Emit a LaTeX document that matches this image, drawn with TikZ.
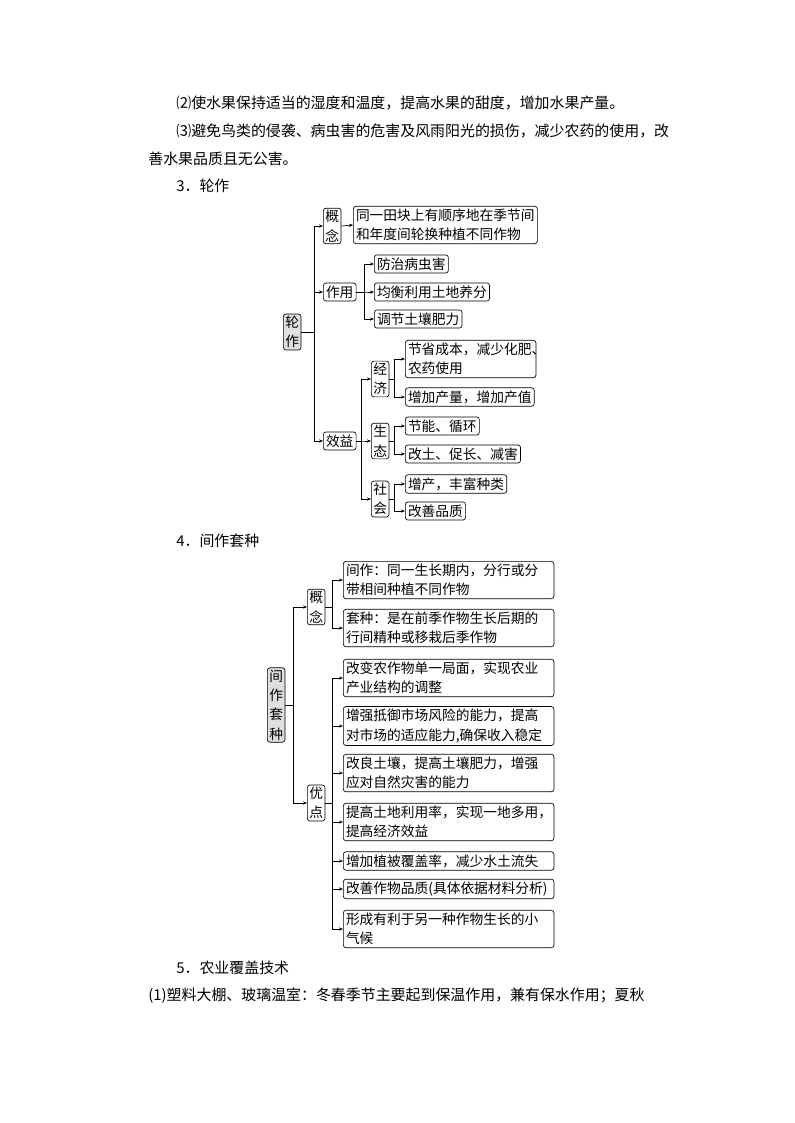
\documentclass[tikz,border=0pt]{standalone}
\usepackage{fontspec}
\setmainfont{Noto Sans CJK SC}
\usetikzlibrary{positioning, calc, arrows.meta}
\tikzset{
  txt/.style={anchor=west, inner sep=0pt, font=\fontsize{11.2}{14}\selectfont},
  box/.style={draw, rounded corners=2pt, anchor=west, inner sep=2pt, align=left, font=\fontsize{10.3}{14.5}\selectfont},
  vbox/.style={box, align=center, inner sep=1.5pt},
  rootbox/.style={vbox, fill=gray!25},
  arr/.style={-{Stealth[length=3pt,width=2.4pt]}},
}
\begin{document}
\begin{tikzpicture}[x=0.75pt, y=-0.75pt, line width=0.5pt]
      \useasboundingbox (0,0) rectangle (794,1123);

      % running text
      \node[txt] (p1) at (176,103) {⑵使水果保持适当的湿度和温度，提高水果的甜度，增加水果产量。};
      \node[txt] (p2) at (176,131) {⑶避免鸟类的侵袭、病虫害的危害及风雨阳光的损伤，减少农药的使用，改};
      \node[txt] (p3) at (148,159) {善水果品质且无公害。};
      \node[txt] (h3) at (176,186) {3．轮作};
      \node[txt] (h4) at (176,541) {4．间作套种};
      \node[txt] (h5) at (176,968) {5．农业覆盖技术};
      \node[txt] (p4) at (148,996) {(1)塑料大棚、玻璃温室：冬春季节主要起到保温作用，兼有保水作用；夏秋};

      % 轮作
      \node[rootbox] (LZ) at (283,332) {轮\\作};
      \node[vbox] (LZgn) at (323,226) {概\\念};
      \node[box, text width=134pt] (LZgnA) at (353,225) {同一田块上有顺序地在季节间\\和年度间轮换种植不同作物};
      \node[box] (LZzy) at (323,292) {作用};
      \node[box] (LZzy1) at (374,264) {防治病虫害};
      \node[box] (LZzy2) at (374,292) {均衡利用土地养分};
      \node[box] (LZzy3) at (374,319) {调节土壤肥力};
      \node[box] (LZxy) at (323,441) {效益};
      \node[vbox] (LZjj) at (371,379) {经\\济};
      \node[vbox] (LZst) at (371,441) {生\\态};
      \node[vbox] (LZsh) at (371,499) {社\\会};
      \node[box, text width=94pt] (LZjj1) at (405,359) {节省成本，减少化肥、\\农药使用};
      \node[box] (LZjj2) at (405,397) {增加产量，增加产值};
      \node[box] (LZst1) at (405,426) {节能、循环};
      \node[box] (LZst2) at (405,454) {改土、促长、减害};
      \node[box] (LZsh1) at (405,484) {增产，丰富种类};
      \node[box] (LZsh2) at (405,511) {改善品质};

      \foreach \c in {LZgn, LZzy, LZxy}
        \draw[arr] (LZ.east) -- ++(13,0) |- (\c.west);
      \draw[arr] (LZgn.east) -- (LZgnA.west);
      \foreach \c in {LZzy1, LZzy2, LZzy3}
        \draw[arr] (LZzy.east) -- ++(8,0) |- (\c.west);
      \foreach \c in {LZjj, LZst, LZsh}
        \draw[arr] (LZxy.east) -- ++(5,0) |- (\c.west);
      \foreach \c in {LZjj1, LZjj2}
        \draw[arr] (LZjj.east) -- ++(5,0) |- (\c.west);
      \foreach \c in {LZst1, LZst2}
        \draw[arr] (LZst.east) -- ++(5,0) |- (\c.west);
      \foreach \c in {LZsh1, LZsh2}
        \draw[arr] (LZsh.east) -- ++(5,0) |- (\c.west);

      % 间作套种
      \node[rootbox] (JZ) at (267,705) {间\\作\\套\\种};
      \node[vbox] (JZgn) at (307,607) {概\\念};
      \node[vbox] (JZyd) at (307,803) {优\\点};
      \node[box, text width=154pt] (JZgn1) at (343,580) {间作：同一生长期内，分行或分\\带相间种植不同作物};
      \node[box, text width=154pt] (JZgn2) at (343,628) {套种：是在前季作物生长后期的\\行间精种或移栽后季作物};
      \node[box, text width=154pt] (JZyd1) at (343,678) {改变农作物单一局面，实现农业\\产业结构的调整};
      \node[box, text width=154pt] (JZyd2) at (343,726) {增强抵御市场风险的能力，提高\\对市场的适应能力,确保收入稳定};
      \node[box, text width=154pt] (JZyd3) at (343,773) {改良土壤，提高土壤肥力，增强\\应对自然灾害的能力};
      \node[box, text width=154pt] (JZyd4) at (343,822) {提高土地利用率，实现一地多用，\\提高经济效益};
      \node[box, text width=154pt] (JZyd5) at (343,861) {增加植被覆盖率，减少水土流失};
      \node[box, text width=154pt] (JZyd6) at (343,889) {改善作物品质(具体依据材料分析)};
      \node[box, text width=154pt] (JZyd7) at (343,929) {形成有利于另一种作物生长的小\\气候};

      \foreach \c in {JZgn, JZyd}
        \draw[arr] (JZ.east) -- ++(8,0) |- (\c.west);
      \foreach \c in {JZgn1, JZgn2}
        \draw[arr] (JZgn.east) -- ++(7,0) |- (\c.west);
      \foreach \c in {JZyd1, JZyd2, JZyd3, JZyd4, JZyd5, JZyd6, JZyd7}
        \draw[arr] (JZyd.east) -- ++(7,0) |- (\c.west);
    \end{tikzpicture}
\end{document}
